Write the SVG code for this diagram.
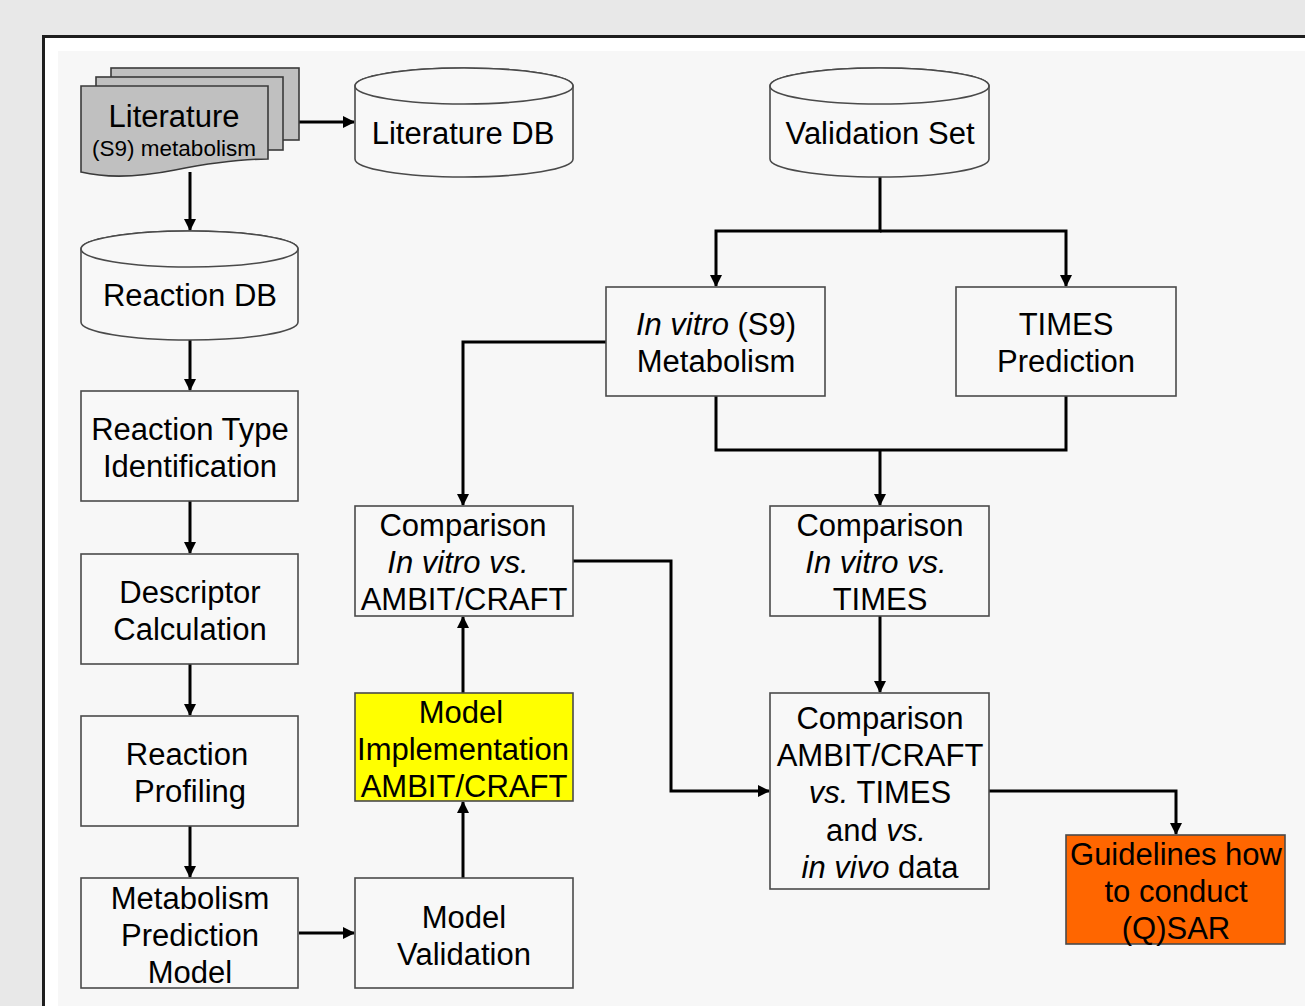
<svg xmlns="http://www.w3.org/2000/svg" width="1305" height="1006" viewBox="0 0 1305 1006">
<style>
.box{fill:#f8f8f8;stroke:#4a4a4a;stroke-width:1.6}
.cyl{fill:#f8f8f8;stroke:#4a4a4a;stroke-width:1.6}
.doc{fill:#c0c0c0;stroke:#3a3a3a;stroke-width:1.6}
.t{font-family:"Liberation Sans",Arial,sans-serif;font-size:31px;fill:#000;text-anchor:middle}
.s{font-size:22.5px}
.i{font-style:italic}
.c{fill:none;stroke:#000;stroke-width:3}
.ca{fill:none;stroke:#000;stroke-width:3;marker-end:url(#ah)}
</style>
<defs>
<marker id="ah" markerUnits="userSpaceOnUse" markerWidth="12" markerHeight="12" refX="11" refY="6" orient="auto">
<path d="M0,0 L12,6 L0,12 Z" fill="#000"/>
</marker>
</defs>
<rect x="0" y="0" width="1305" height="1006" fill="#e8e8e8"/>
<rect x="43.5" y="36.5" width="1300" height="1000" fill="#f7f7f7" stroke="#1e1e1e" stroke-width="3"/>
<polygon points="45,38 1305,38 1305,51 58,51 58,1006 45,1006" fill="#ffffff"/>

<g id="connectors">
<path class="ca" d="M299,122 H354"/>
<path class="ca" d="M190,172 V230"/>
<path class="ca" d="M190,340 V390"/>
<path class="ca" d="M190,501 V553"/>
<path class="ca" d="M190,664 V715"/>
<path class="ca" d="M190,826 V877"/>
<path class="ca" d="M299,933 H354"/>
<path class="ca" d="M463,878 V802"/>
<path class="ca" d="M463,693 V617"/>
<path class="ca" d="M880,177 V231 H716 V286"/>
<path class="ca" d="M880,231 H1066 V286"/>
<path class="ca" d="M606,342 H463 V505"/>
<path class="c" d="M716,396 V450 H1066 V396"/>
<path class="ca" d="M880,450 V505"/>
<path class="ca" d="M573,561 H671 V791 H769"/>
<path class="ca" d="M880,616 V692"/>
<path class="ca" d="M989,791 H1176 V834"/>
</g>

<g id="literature">
<rect class="doc" x="111" y="68" width="188" height="72"/>
<rect class="doc" x="96" y="77" width="187" height="73"/>
<path class="doc" d="M81,86 H268 V159 C235,159 205,164 175,170 C140,177 110,179 81,172 Z"/>
<text class="t" x="174" y="127">Literature</text>
<text class="t s" x="174" y="156">(S9) metabolism</text>
</g>

<g id="literature-db">
<path class="cyl" d="M355,86 A109,18 0 0 1 573,86 V159 A109,18 0 0 1 355,159 Z"/>
<ellipse class="cyl" cx="464" cy="86" rx="109" ry="18"/>
<text class="t" x="463" y="144">Literature DB</text>
</g>

<g id="validation-set">
<path class="cyl" d="M770,86 A109.5,18 0 0 1 989,86 V159 A109.5,18 0 0 1 770,159 Z"/>
<ellipse class="cyl" cx="879.5" cy="86" rx="109.5" ry="18"/>
<text class="t" x="880" y="144">Validation Set</text>
</g>

<g id="reaction-db">
<path class="cyl" d="M81,249 A108.5,18 0 0 1 298,249 V322 A108.5,18 0 0 1 81,322 Z"/>
<ellipse class="cyl" cx="189.5" cy="249" rx="108.5" ry="18"/>
<text class="t" x="190" y="306">Reaction DB</text>
</g>

<g id="reaction-type">
<rect class="box" x="81" y="391" width="217" height="110"/>
<text class="t" x="190" y="440">Reaction Type</text>
<text class="t" x="190" y="477">Identification</text>
</g>

<g id="descriptor">
<rect class="box" x="81" y="554" width="217" height="110"/>
<text class="t" x="190" y="603">Descriptor</text>
<text class="t" x="190" y="640">Calculation</text>
</g>

<g id="reaction-profiling">
<rect class="box" x="81" y="716" width="217" height="110"/>
<text class="t" x="187" y="765">Reaction</text>
<text class="t" x="190" y="802">Profiling</text>
</g>

<g id="metabolism-model">
<rect class="box" x="81" y="878" width="217" height="110"/>
<text class="t" x="190" y="909">Metabolism</text>
<text class="t" x="190" y="946">Prediction</text>
<text class="t" x="190" y="983">Model</text>
</g>

<g id="model-validation">
<rect class="box" x="355" y="878" width="218" height="110"/>
<text class="t" x="464" y="928">Model</text>
<text class="t" x="464" y="965">Validation</text>
</g>

<g id="model-implementation">
<rect x="355" y="693" width="218" height="108" fill="#ffff00" stroke="#4a4a4a" stroke-width="1.6"/>
<text class="t" x="461" y="723">Model</text>
<text class="t" x="463" y="760">Implementation</text>
<text class="t" x="464" y="797">AMBIT/CRAFT</text>
</g>

<g id="comparison-ambit">
<rect class="box" x="355" y="506" width="218" height="110"/>
<text class="t" x="463" y="536">Comparison</text>
<text class="t i" x="458" y="573">In vitro vs.</text>
<text class="t" x="464" y="610">AMBIT/CRAFT</text>
</g>

<g id="invitro-metabolism">
<rect class="box" x="606" y="287" width="219" height="109"/>
<text class="t" x="716" y="335"><tspan class="i">In vitro</tspan> (S9)</text>
<text class="t" x="716" y="372">Metabolism</text>
</g>

<g id="times-prediction">
<rect class="box" x="956" y="287" width="220" height="109"/>
<text class="t" x="1066" y="335">TIMES</text>
<text class="t" x="1066" y="372">Prediction</text>
</g>

<g id="comparison-times">
<rect class="box" x="770" y="506" width="219" height="110"/>
<text class="t" x="880" y="536">Comparison</text>
<text class="t i" x="876" y="573">In vitro vs.</text>
<text class="t" x="880" y="610">TIMES</text>
</g>

<g id="comparison-all">
<rect class="box" x="770" y="693" width="219" height="196"/>
<text class="t" x="880" y="729">Comparison</text>
<text class="t" x="880" y="766">AMBIT/CRAFT</text>
<text class="t" x="880" y="803"><tspan class="i">vs.</tspan> TIMES</text>
<text class="t" x="876" y="841">and <tspan class="i">vs.</tspan></text>
<text class="t" x="880" y="878"><tspan class="i">in vivo</tspan> data</text>
</g>

<g id="guidelines">
<rect x="1066" y="835" width="219" height="109" fill="#ff6600" stroke="#4a4a4a" stroke-width="1.6"/>
<text class="t" x="1176" y="865">Guidelines how</text>
<text class="t" x="1176" y="902">to conduct</text>
<text class="t" x="1176" y="939">(Q)SAR</text>
</g>
</svg>
